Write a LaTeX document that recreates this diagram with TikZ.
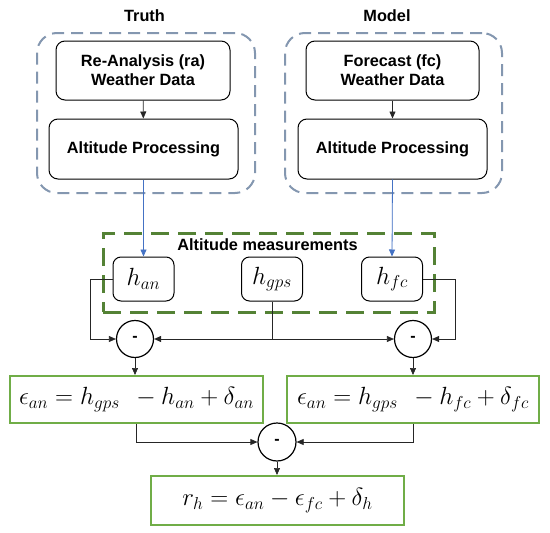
\documentclass[tikz,border=0pt]{standalone}
\usepackage{fontspec}
\newfontfamily\arialf{Liberation Sans}
\usetikzlibrary{arrows.meta}
\definecolor{dashblue}{HTML}{8497B0}
\definecolor{dashgreen}{HTML}{548235}
\definecolor{eqgreen}{HTML}{70AD47}
\definecolor{linkblue}{HTML}{4472C4}
\begin{document}
\begin{tikzpicture}[x=1pt,y=-1pt,
  txt/.style={font=\arialf\bfseries\fontsize{16.3}{19}\selectfont, align=center, inner sep=0pt},
  groupbox/.style={draw=dashblue, line width=2pt, dash pattern=on 12pt off 7pt, rounded corners=20pt, inner sep=0pt},
  procbox/.style={draw=black, line width=1pt, rounded corners=9pt, txt},
  measbox/.style={draw=dashgreen, line width=3pt, dash pattern=on 18pt off 9pt, inner sep=0pt},
  hbox/.style={draw=black, line width=1pt, rounded corners=8pt, minimum width=61pt, minimum height=44pt, inner sep=0pt, font=\fontsize{24}{28}\selectfont},
  eqbox/.style={draw=eqgreen, line width=2pt, inner sep=0pt, font=\fontsize{24}{28}\selectfont},
  minus/.style={draw=black, circle, line width=1.2pt, minimum size=37pt, inner sep=0pt, font=\arialf\bfseries\fontsize{16}{18}\selectfont},
  arr/.style={-{Triangle[length=7pt,width=6pt]}, line width=0.7pt, draw=black!85},
  barr/.style={-{Triangle[length=7pt,width=6pt]}, line width=0.8pt, draw=linkblue, fill=linkblue},
  ln/.style={line width=0.7pt, draw=black!85}
]
\useasboundingbox (0,0) rectangle (550,533);

% titles
\node[txt] (ttruth) at (144.5,16) {Truth};
\node[txt] (tmodel) at (387,16) {Model};

% group boxes
\node[groupbox, minimum width=218pt, minimum height=160pt] (gtruth) at (146,113) {};
\node[groupbox, minimum width=217pt, minimum height=160pt] (gmodel) at (393.5,113) {};

% process boxes
\node[procbox, minimum width=174pt, minimum height=59pt] (ra) at (143,70.5) {Re-Analysis (ra)\\Weather Data};
\node[procbox, minimum width=189pt, minimum height=60pt] (aptruth) at (143.5,149) {Altitude Processing};
\node[procbox, minimum width=173pt, minimum height=59pt] (fc) at (392.5,70.5) {Forecast (fc)\\Weather Data};
\node[procbox, minimum width=189pt, minimum height=60pt] (apmodel) at (392.5,149) {Altitude Processing};

% measurements
\node[measbox, minimum width=331pt, minimum height=79pt] (meas) at (268.5,272.5) {};
\node[txt] (measlbl) at (267.5,245) {Altitude measurements};
\node[hbox] (han) at (143.5,279) {$h_{an}$};
\node[hbox] (hgps) at (272,279) {$h_{gps}$};
\node[hbox] (hfc) at (392,279) {$h_{fc}$};

% minus circles
\node[minus] (m1) at (135,339) {-};
\node[minus] (m2) at (413,339) {-};
\node[minus, minimum size=38pt] (m3) at (277,442) {-};

% equations
\node[eqbox, minimum width=253pt, minimum height=47pt] (e1) at (136.5,399.5) {$\epsilon_{an} = h_{gps}\;\, - h_{an} + \delta_{an}$};
\node[eqbox, minimum width=252pt, minimum height=47pt] (e2) at (413,399.5) {$\epsilon_{an} = h_{gps}\;\, - h_{fc} + \delta_{fc}$};
\node[eqbox, minimum width=253pt, minimum height=49pt] (res) at (277.5,500.5) {$r_{h} = \epsilon_{an} - \epsilon_{fc} + \delta_{h}$};

% connectors
\draw[arr] (ra) -- (aptruth);
\draw[arr] (fc) -- (apmodel);
\draw[barr] (aptruth.south) -- (han.north);
\draw[barr] (apmodel.south) -- (hfc.north);

\draw[arr] (han.west) -- ++(-22,0) |- (m1.west);
\coordinate (gpsj) at (hgps.south |- m1.center);
\draw[ln] (hgps.south) -- (gpsj);
\draw[arr, line width=1pt] (gpsj) -- (m1.east);
\draw[arr] (gpsj) -- (m2.west);
\draw[arr] (hfc.east) -- ++(32,0) |- (m2.east);

\draw[arr] (m1.south) -- (m1.south |- e1.north);
\draw[arr] (m2.south) -- (m2.south |- e2.north);
\draw[arr] (e1.south) |- (m3.west);
\draw[arr] (e2.south) |- (m3.east);
\draw[arr] (m3.south) -- (m3.south |- res.north);
\end{tikzpicture}
\end{document}
